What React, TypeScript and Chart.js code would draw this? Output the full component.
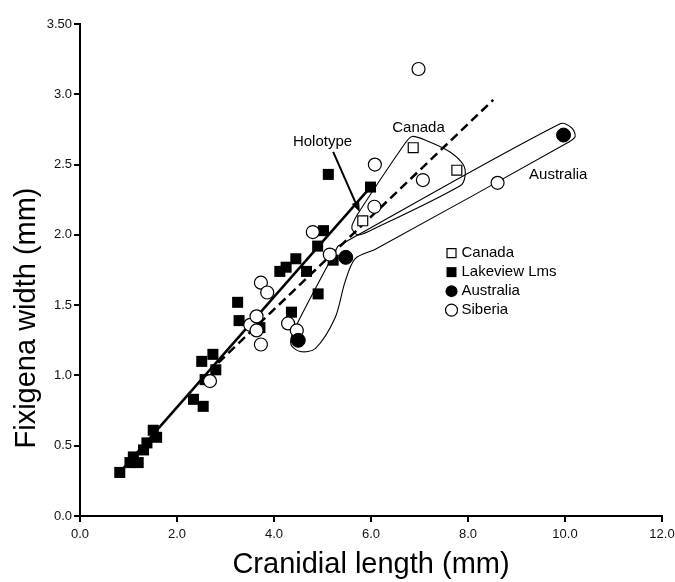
import React, { useEffect, useRef } from "react";
import { Chart, registerables } from "chart.js";

Chart.register(...registerables);

// ---- data (mm) ----
const canadaPts: [number, number][] = [
  [5.83, 2.10], [6.87, 2.62], [7.77, 2.46],
];
const lakeviewPts: [number, number][] = [
  [0.82, 0.31], [1.03, 0.38], [1.20, 0.38], [1.10, 0.42], [1.31, 0.47],
  [1.38, 0.52], [1.51, 0.61], [1.58, 0.56], [2.34, 0.83], [2.54, 0.78],
  [2.51, 1.10], [2.74, 1.15], [2.80, 1.04], [2.58, 0.97], [3.25, 1.52],
  [3.28, 1.39], [3.71, 1.34], [4.12, 1.74], [4.25, 1.77], [4.45, 1.83],
  [4.67, 1.74], [4.36, 1.45], [4.91, 1.58], [4.90, 1.92], [5.02, 2.03],
  [5.22, 1.82], [5.12, 2.43], [5.99, 2.34],
];
const australiaPts: [number, number][] = [
  [4.50, 1.25], [5.48, 1.84], [9.97, 2.71],
];
const siberiaPts: [number, number][] = [
  [2.68, 0.96], [3.51, 1.36], [3.64, 1.42], [3.64, 1.32], [3.73, 1.22],
  [3.73, 1.66], [3.86, 1.59], [4.29, 1.37], [4.47, 1.32], [4.80, 2.02],
  [5.15, 1.86], [6.07, 2.20], [6.08, 2.50], [7.07, 2.39], [6.98, 3.18],
  [8.61, 2.37],
];
const solidLine: [number, number][] = [[0.82, 0.31], [5.99, 2.34]];
const dashedLine: [number, number][] = [[2.85, 1.09], [8.52, 2.96]];
const canadaHull: [number, number][] = [
  [5.61, 2.07], [5.71, 2.14], [6.70, 2.65], [6.85, 2.70], [7.15, 2.67],
  [7.63, 2.59], [7.90, 2.50], [7.94, 2.42], [7.84, 2.35], [5.98, 2.03],
  [5.73, 2.00], [5.61, 2.04], [5.61, 2.07],
];
const australiaHull: [number, number][] = [
  [5.32, 1.92], [9.90, 2.79], [10.14, 2.76], [10.21, 2.70], [10.08, 2.66],
  [6.10, 1.90], [5.67, 1.83], [5.46, 1.66], [5.26, 1.41], [4.85, 1.19],
  [4.54, 1.17], [4.35, 1.22], [4.41, 1.32], [5.32, 1.92],
];
const xTicksMax = 12;
const yTicksMax = 3.5;
const legendLabels = ["Canada", "Lakeview Lms", "Australia", "Siberia"];
const holotypeArrow: [number, number][] = [[5.22, 2.59], [5.77, 2.16]];
const holotypeLabelAt: [number, number] = [5.0, 2.66];
const canadaLabelAt: [number, number] = [6.98, 2.76];
const australiaLabelAt: [number, number] = [9.86, 2.43];
const legendAt: [number, number] = [7.66, 1.87];

const FONT = '"Liberation Sans", Arial, Helvetica, sans-serif';
const toXY = (a: [number, number][]) => a.map(([x, y]) => ({ x, y }));

const annotations = {
  id: "annotations",
  afterDraw(chart: any) {
    const { ctx, scales } = chart;
    const xs = scales.x;
    const ys = scales.y;
    const px = (v: number) => xs.getPixelForValue(v);
    const py = (v: number) => ys.getPixelForValue(v);
    ctx.save();
    ctx.fillStyle = "#000";
    ctx.strokeStyle = "#000";
    ctx.textBaseline = "middle";
    ctx.textAlign = "center";
    ctx.font = `15px ${FONT}`;
    ctx.fillText("Holotype", px(holotypeLabelAt[0]), py(holotypeLabelAt[1]));
    ctx.fillText("Canada", px(canadaLabelAt[0]), py(canadaLabelAt[1]));
    ctx.fillText("Australia", px(australiaLabelAt[0]), py(australiaLabelAt[1]));

    // arrow
    const x1 = px(holotypeArrow[0][0]), y1 = py(holotypeArrow[0][1]);
    const x2 = px(holotypeArrow[1][0]), y2 = py(holotypeArrow[1][1]);
    const ang = Math.atan2(y2 - y1, x2 - x1);
    const hl = 11, hw = 4;
    ctx.lineWidth = 2;
    ctx.beginPath();
    ctx.moveTo(x1, y1);
    ctx.lineTo(x2 - hl * Math.cos(ang), y2 - hl * Math.sin(ang));
    ctx.stroke();
    ctx.beginPath();
    ctx.moveTo(x2, y2);
    ctx.lineTo(x2 - hl * Math.cos(ang) + hw * Math.sin(ang), y2 - hl * Math.sin(ang) - hw * Math.cos(ang));
    ctx.lineTo(x2 - hl * Math.cos(ang) - hw * Math.sin(ang), y2 - hl * Math.sin(ang) + hw * Math.cos(ang));
    ctx.closePath();
    ctx.fill();

    // legend
    const lx = px(legendAt[0]);
    const ly = py(legendAt[1]);
    ctx.textAlign = "left";
    ctx.font = `15px ${FONT}`;
    legendLabels.forEach((label, i) => {
      const cy = ly + i * 19;
      ctx.lineWidth = 1.2;
      ctx.beginPath();
      if (i === 0) {
        ctx.fillStyle = "#fff";
        ctx.rect(lx - 4.5, cy - 4.5, 9, 9);
        ctx.fill();
        ctx.stroke();
      } else if (i === 1) {
        ctx.fillStyle = "#000";
        ctx.rect(lx - 5, cy - 5, 10, 10);
        ctx.fill();
      } else if (i === 2) {
        ctx.fillStyle = "#000";
        ctx.arc(lx, cy, 6, 0, Math.PI * 2);
        ctx.fill();
      } else {
        ctx.fillStyle = "#fff";
        ctx.arc(lx, cy, 6, 0, Math.PI * 2);
        ctx.fill();
        ctx.stroke();
      }
      ctx.fillStyle = "#000";
      ctx.fillText(label, lx + 10, cy);
    });

    // axis titles
    ctx.font = `29px ${FONT}`;
    ctx.textAlign = "center";
    ctx.fillText("Cranidial length (mm)", (xs.left + xs.right) / 2, 565);
    ctx.translate(27, 318);
    ctx.rotate(-Math.PI / 2);
    ctx.fillText("Fixigena width (mm)", 0, 0);
    ctx.restore();
  },
};

export default function App() {
  const ref = useRef<HTMLCanvasElement | null>(null);
  useEffect(() => {
    document.body.style.margin = "0";
    const canvas = ref.current!;
    const pointDs = (pts: [number, number][], style: string, r: number, fill: string, bw: number) => ({
      type: "scatter" as const,
      data: toXY(pts),
      pointStyle: style,
      pointRadius: r,
      pointBackgroundColor: fill,
      pointBorderColor: "#000",
      pointBorderWidth: bw,
      showLine: false,
    });
    const lineDs = (pts: [number, number][], width: number, dash: number[], tension: number) => ({
      type: "scatter" as const,
      data: toXY(pts),
      showLine: true,
      borderColor: "#000",
      borderWidth: width,
      borderDash: dash,
      pointRadius: 0,
      tension,
      fill: false,
    });
    const chart = new Chart(canvas, {
      type: "scatter",
      data: {
        datasets: [
          pointDs(canadaPts, "rect", 7, "#fff", 1.2),
          pointDs(australiaPts, "circle", 7, "#000", 1),
          pointDs(siberiaPts, "circle", 6.5, "#fff", 1.2),
          pointDs(lakeviewPts, "rect", 7.8, "#000", 0),
          lineDs(solidLine, 2.5, [], 0),
          lineDs(dashedLine, 2.5, [9, 5], 0),
          lineDs(canadaHull, 1.1, [], 0.3),
          lineDs(australiaHull, 1.1, [], 0.3),
        ] as any,
      },
      options: {
        animation: false,
        responsive: false,
        devicePixelRatio: 1,
        layout: { padding: { top: 24, right: 13, left: 0, bottom: 0 } },
        plugins: { legend: { display: false }, tooltip: { enabled: false } },
        scales: {
          x: {
            type: "linear",
            min: 0,
            max: xTicksMax,
            ticks: {
              stepSize: 2,
              callback: (v: any) => Number(v).toFixed(1),
              color: "#111",
              font: { family: FONT, size: 13 },
              padding: 5,
              maxRotation: 0,
            },
            grid: { drawOnChartArea: false, drawTicks: true, tickLength: 6, color: "#000", lineWidth: 2 },
            border: { color: "#000", width: 2 },
            afterFit: (s: any) => { s.height = 66; s.paddingRight = 0; s.paddingLeft = 0; },
          },
          y: {
            type: "linear",
            min: 0,
            max: yTicksMax,
            ticks: {
              stepSize: 0.5,
              callback: (v: any) => (Number(v) === 3.5 ? "3.50" : Number(v).toFixed(1)),
              color: "#111",
              font: { family: FONT, size: 13 },
              padding: 2,
            },
            grid: { drawOnChartArea: false, drawTicks: true, tickLength: 6, color: "#000", lineWidth: 2 },
            border: { color: "#000", width: 2 },
            afterFit: (s: any) => { s.width = 80; s.paddingTop = 0; s.paddingBottom = 0; },
          },
        },
      } as any,
      plugins: [annotations],
    });
    return () => chart.destroy();
  }, []);
  return (
    <div style={{ position: "absolute", left: 0, top: 0, width: 675, height: 582, background: "#fff" }}>
      <canvas ref={ref} width={675} height={582} style={{ width: 675, height: 582, display: "block" }} />
    </div>
  );
}
